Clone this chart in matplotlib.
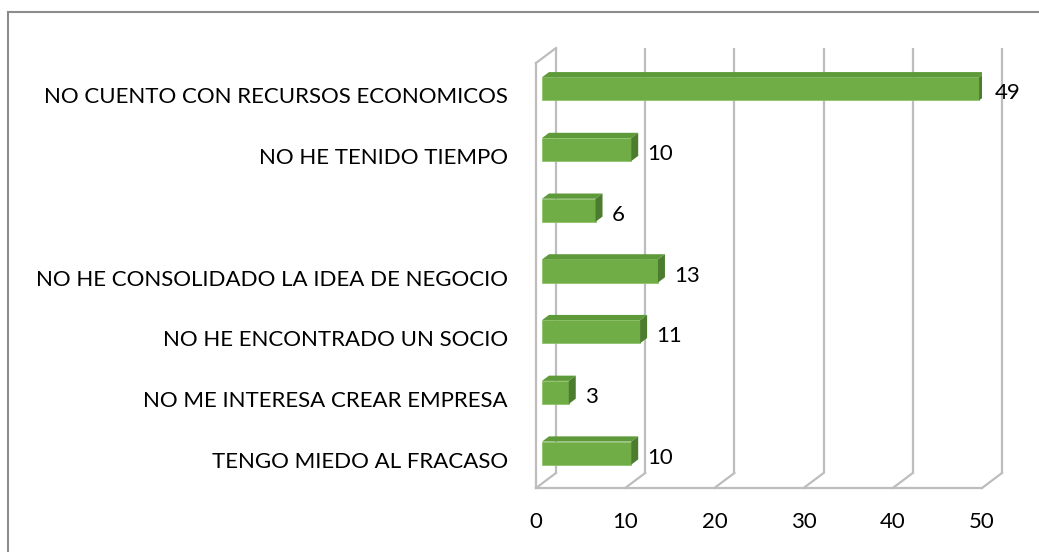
import numpy as np
import matplotlib
matplotlib.use("Agg")
import matplotlib.pyplot as plt
from matplotlib.patches import Polygon
from matplotlib.lines import Line2D

# chart data (top to bottom as shown)
categories = [
    "NO CUENTO CON RECURSOS ECONOMICOS",
    "NO HE TENIDO TIEMPO",
    "",
    "NO HE CONSOLIDADO LA IDEA DE NEGOCIO",
    "NO HE ENCONTRADO UN SOCIO",
    "NO ME INTERESA CREAR EMPRESA",
    "TENGO MIEDO AL FRACASO",
]
values = [49, 10, 6, 13, 11, 3, 10]
x_ticks = [0, 10, 20, 30, 40, 50]

W, H = 1039, 552
plt.rcParams['font.family'] = ['Lato', 'DejaVu Sans']
FS = 16

fig = plt.figure(figsize=(W / 100, H / 100), dpi=100)
fig.patch.set_facecolor("white")

# front plane of the 3d box, in pixels
left_px, right_px, top_px, bot_px = 536, 982, 63, 488
ax = fig.add_axes([left_px / W, 1 - bot_px / H,
                   (right_px - left_px) / W, (bot_px - top_px) / H])
n = len(categories)
ax.set_xlim(0, 50)
ax.set_ylim(n - 0.5, -0.5)
ax.axis("off")

# data units per pixel, used for the fake depth
xpp = 50 / (right_px - left_px)
ypp = n / (bot_px - top_px)
DEPTH_X, DEPTH_Y = 20, 15  # back wall offset in pixels


def shift(x, y, d):
    return x + d * DEPTH_X * xpp, y - d * DEPTH_Y * ypp


grid_c = "#bdbdbd"
grid_lw = 1.6
y_top, y_bot = -0.5, n - 0.5

# back wall gridlines and floor diagonals
for v in x_ticks:
    bx, by0 = shift(v, y_bot, 1)
    _, by1 = shift(v, y_top, 1)
    ax.plot([bx, bx], [by0, by1], color=grid_c, lw=grid_lw, clip_on=False,
            solid_capstyle="butt")
    ax.plot([v, bx], [y_bot, by0], color=grid_c, lw=grid_lw, clip_on=False)
# front floor edge
ax.plot([0, 50], [y_bot, y_bot], color=grid_c, lw=grid_lw, clip_on=False)
# left wall
bx, by = shift(0, y_top, 1)
ax.plot([0, 0], [y_bot, y_top], color=grid_c, lw=grid_lw, clip_on=False)
ax.plot([0, bx], [y_top, by], color=grid_c, lw=grid_lw, clip_on=False)

# bars with top and side faces
d0, d1 = 0.3, 0.65
h = 0.38
front_c, top_c, side_c = "#70ad47", "#5e9a3a", "#4c7d2e"
for i, v in enumerate(values):
    x0, yc = shift(0, i, d0)
    ax.barh(yc, v, left=x0, height=h, color=front_c, edgecolor="#8cc26a",
            linewidth=0.6, zorder=3)
    ft_l = (x0, yc - h / 2)
    ft_r = (x0 + v, yc - h / 2)
    fb_r = (x0 + v, yc + h / 2)
    bt_l = shift(0, i - h / 2, d1)
    bt_r = shift(v, i - h / 2, d1)
    bb_r = shift(v, i + h / 2, d1)
    ax.add_patch(Polygon([ft_l, ft_r, bt_r, bt_l], closed=True,
                         facecolor=top_c, edgecolor="none", zorder=3))
    ax.add_patch(Polygon([ft_r, bt_r, bb_r, fb_r], closed=True,
                         facecolor=side_c, edgecolor="none", zorder=3))
    ax.annotate(str(v), (v, i), xytext=(22, 0), textcoords="offset pixels",
                ha="left", va="center", fontsize=FS, color="black",
                annotation_clip=False, zorder=4)

# category labels
for i, lab in enumerate(categories):
    ax.annotate(lab, (0, i), xytext=(-28, -4), textcoords="offset pixels",
                ha="right", va="center", fontsize=FS, color="black",
                annotation_clip=False)

# x tick labels
for v in x_ticks:
    ax.annotate(str(v), (v, y_bot), xytext=(0, -34),
                textcoords="offset pixels", ha="center", va="center",
                fontsize=FS, color="black", annotation_clip=False)

# chart border (cropped at right and bottom)
bc = "#8c8c8c"
fig.add_artist(Line2D([8 / W, 8 / W], [0, 1 - 12 / H], color=bc, lw=1.5,
                      transform=fig.transFigure))
fig.add_artist(Line2D([8 / W, 1], [1 - 12 / H, 1 - 12 / H], color=bc, lw=1.5,
                      transform=fig.transFigure))

fig.savefig("out.png", dpi=100)
